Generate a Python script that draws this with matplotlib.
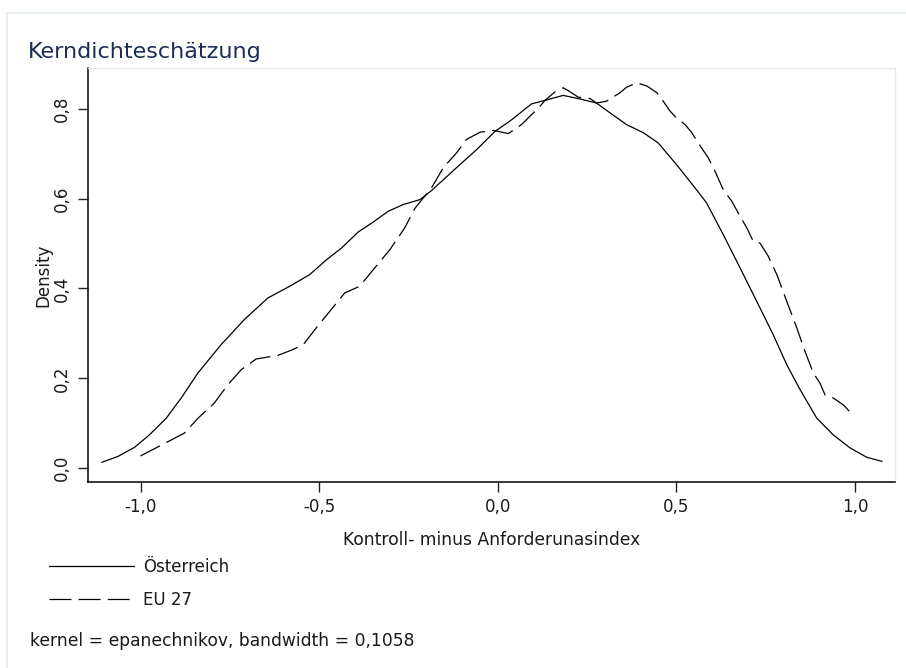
import matplotlib
matplotlib.use("Agg")
import matplotlib.pyplot as plt
from matplotlib.lines import Line2D

# ---- data ----
at_x = [-1.109, -1.064, -1.018, -0.976, -0.929, -0.887, -0.840, -0.775, -0.710, -0.644,
        -0.583, -0.527, -0.480, -0.438, -0.391, -0.349, -0.307, -0.265, -0.218, -0.186,
        -0.116, -0.060, -0.008, 0.034, 0.094, 0.132, 0.183, 0.230, 0.276, 0.314,
        0.360, 0.407, 0.449, 0.500, 0.552, 0.584, 0.631, 0.678, 0.725, 0.771,
        0.809, 0.846, 0.893, 0.939, 0.986, 1.033, 1.075]
at_y = [0.013, 0.026, 0.046, 0.074, 0.111, 0.156, 0.212, 0.275, 0.331, 0.379,
        0.405, 0.431, 0.464, 0.490, 0.526, 0.548, 0.572, 0.587, 0.598, 0.618,
        0.669, 0.709, 0.750, 0.773, 0.811, 0.819, 0.830, 0.822, 0.813, 0.791,
        0.765, 0.747, 0.724, 0.676, 0.624, 0.591, 0.520, 0.446, 0.371, 0.297,
        0.230, 0.175, 0.111, 0.074, 0.045, 0.024, 0.015]

eu_x = [-1.001, -0.938, -0.878, -0.840, -0.794, -0.756, -0.719, -0.677, -0.616, -0.574,
        -0.545, -0.513, -0.471, -0.429, -0.387, -0.349, -0.303, -0.261, -0.232, -0.186,
        -0.153, -0.116, -0.088, -0.050, -0.013, 0.029, 0.048, 0.066, 0.094, 0.116,
        0.132, 0.160, 0.183, 0.202, 0.225, 0.258, 0.276, 0.304, 0.342, 0.360,
        0.389, 0.417, 0.445, 0.463, 0.482, 0.500, 0.524, 0.543, 0.561, 0.589,
        0.608, 0.631, 0.655, 0.678, 0.697, 0.715, 0.734, 0.757, 0.781, 0.809,
        0.837, 0.860, 0.883, 0.902, 0.916, 0.939, 0.967, 0.991]
eu_y = [0.027, 0.053, 0.078, 0.111, 0.145, 0.186, 0.219, 0.243, 0.251, 0.264,
        0.275, 0.308, 0.349, 0.390, 0.405, 0.442, 0.486, 0.535, 0.579, 0.624,
        0.669, 0.702, 0.732, 0.748, 0.752, 0.745, 0.755, 0.765, 0.787, 0.804,
        0.819, 0.838, 0.847, 0.838, 0.826, 0.823, 0.813, 0.817, 0.836, 0.848,
        0.858, 0.851, 0.836, 0.817, 0.795, 0.780, 0.765, 0.747, 0.724, 0.691,
        0.661, 0.620, 0.594, 0.561, 0.535, 0.505, 0.501, 0.472, 0.431, 0.371,
        0.312, 0.260, 0.212, 0.189, 0.163, 0.156, 0.141, 0.121]

series_labels = ["Österreich", "EU 27"]
xticks = [-1.0, -0.5, 0.0, 0.5, 1.0]
xtick_labels = ["-1,0", "-0,5", "0,0", "0,5", "1,0"]
yticks = [0.0, 0.2, 0.4, 0.6, 0.8]
ytick_labels = ["0,0", "0,2", "0,4", "0,6", "0,8"]
title = "Kerndichteschätzung"
xlabel = "Kontroll- minus Anforderunasindex"
ylabel = "Density"
note = "kernel = epanechnikov, bandwidth = 0,1058"

# ---- figure ----
plt.rcParams['font.family'] = ['DejaVu Sans']
W, H = 906, 668
fig = plt.figure(figsize=(W / 100, H / 100), dpi=100)
fig.patch.set_facecolor('white')

light = '#e4ecec'
txt = '#1a1a1a'
# outer frame (top and left visible)
fig.add_artist(Line2D([7 / W, 1.0], [1 - 13 / H, 1 - 13 / H], transform=fig.transFigure,
                      color=light, lw=1.2))
fig.add_artist(Line2D([7 / W, 7 / W], [1 - 13 / H, 0.0], transform=fig.transFigure,
                      color=light, lw=1.2))

left, right, top, bottom = 88, 895, 68, 482
ax = fig.add_axes([left / W, 1 - bottom / H, (right - left) / W, (bottom - top) / H])
ax.set_facecolor('white')

dash = (0, (17.5, 5.8))
l1, = ax.plot(at_x, at_y, color='black', lw=0.9, label=series_labels[0])
l2, = ax.plot(eu_x, eu_y, color='black', lw=0.9, linestyle=dash, label=series_labels[1])

ax.set_xlim(-1.148, 1.112)
ax.set_ylim(-0.031, 0.891)

ax.set_xticks(xticks)
ax.set_xticklabels(xtick_labels)
ax.set_yticks(yticks)
ax.set_yticklabels(ytick_labels, rotation=90, va='center')

for s in ['top', 'right']:
    ax.spines[s].set_color(light)
    ax.spines[s].set_linewidth(1.0)
for s in ['left', 'bottom']:
    ax.spines[s].set_color('black')
    ax.spines[s].set_linewidth(1.1)

ax.tick_params(axis='both', direction='out', length=7.2, width=1.0, color='#222222',
               labelsize=12, labelcolor=txt)
ax.tick_params(axis='x', pad=4.5)
ax.tick_params(axis='y', pad=5)

ax.set_xlabel(xlabel, fontsize=12.3, color=txt, va='center')
ax.xaxis.set_label_coords(0.5, (bottom - 540) / (bottom - top))
ax.set_ylabel(ylabel, fontsize=12, color=txt, va='center')
ax.yaxis.set_label_coords((43 - left) / (right - left), 0.5)

fig.text(28 / W, 1 - 58 / H, title, fontsize=16, color='#1e2d55',
         ha='left', va='baseline')

leg = fig.legend(handles=[l1, l2], loc='upper left',
                 bbox_to_anchor=(42 / W, 1 - 551 / H), frameon=False,
                 fontsize=12, handlelength=5.1, handletextpad=0.55,
                 labelspacing=0.9, borderaxespad=0, borderpad=0.4)
for t in leg.get_texts():
    t.set_color(txt)

fig.text(30 / W, 1 - 641 / H, note, fontsize=12.3, color=txt,
         ha='left', va='center')

fig.savefig('out.png', dpi=100, facecolor='white')
